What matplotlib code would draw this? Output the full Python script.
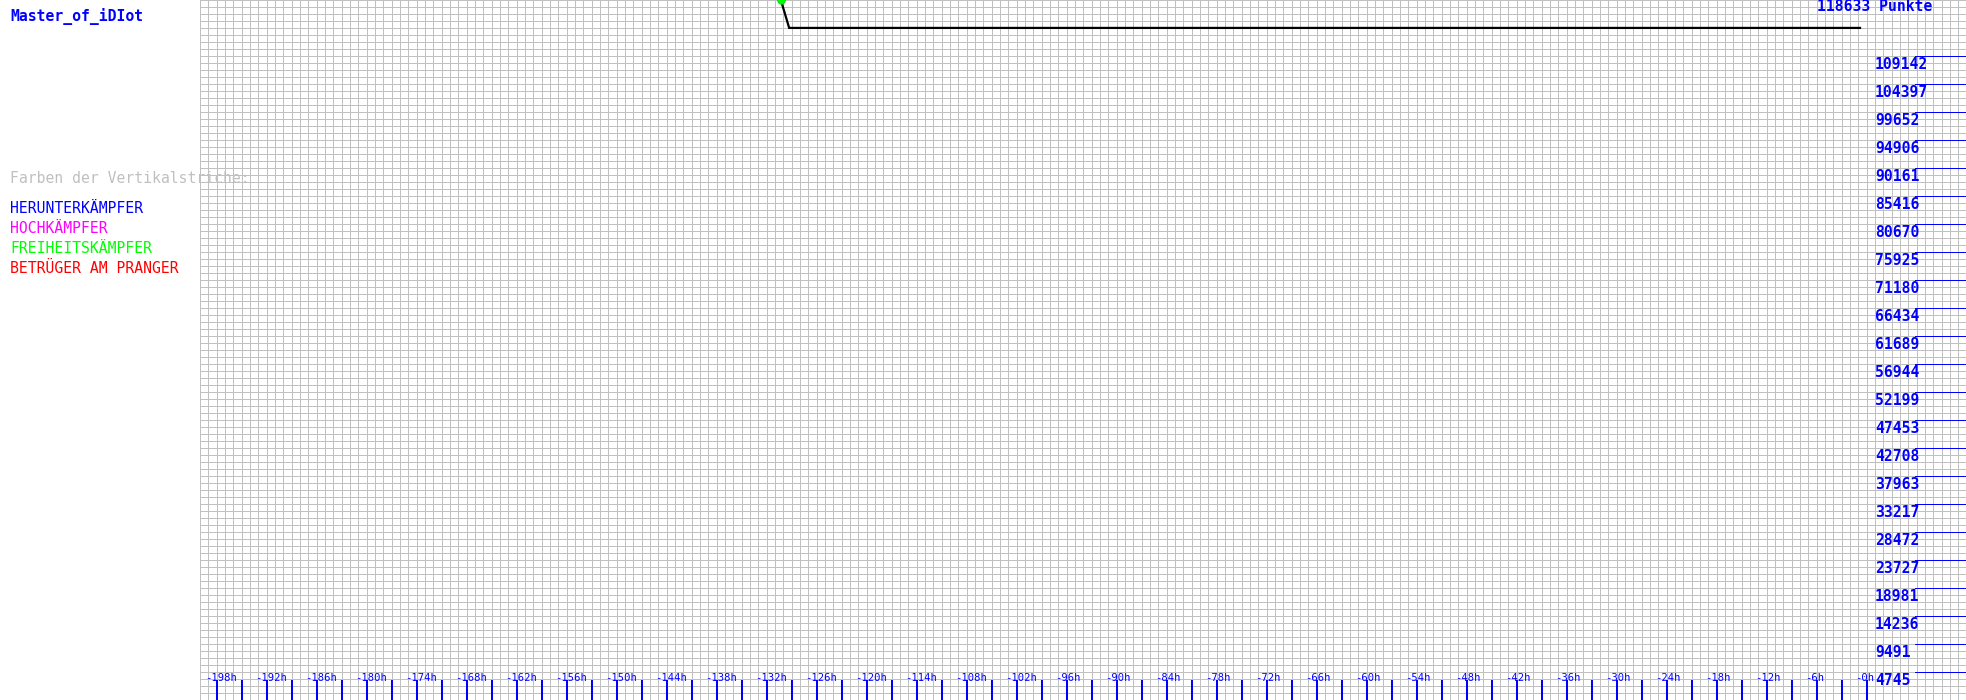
import matplotlib
matplotlib.use("Agg")
import matplotlib.pyplot as plt
from matplotlib.transforms import offset_copy

# ---- data ----
hours = [-130.3, -129.3, -0.8]
points = [118633, 113900, 113900]
max_points = 118633
title_text = "118633 Punkte"
player = "Master_of_iDIot"
y_tick_values = [4745, 9491, 14236, 18981, 23727, 28472, 33217, 37963, 42708, 47453,
                 52199, 56944, 61689, 66434, 71180, 75925, 80670, 85416, 90161, 94906,
                 99652, 104397, 109142]
x_tick_hours = list(range(-198, 1, 3))
x_label_hours = list(range(-198, 1, 6))
x_labels = ["-%dh" % (-h) for h in x_label_hours]
legend_title = "Farben der Vertikalstriche:"
legend_items = ["HERUNTERKÄMPFER", "HOCHKÄMPFER", "FREIHEITSKÄMPFER", "BETRÜGER AM PRANGER"]
legend_colors = ["#0000ff", "#ff00ff", "#00ff00", "#ff0000"]

W, H, DPI = 1966, 700, 100
PX_PER_H = 50.0 / 6.0
X0_PX = 1866.67
xmin = (0 - X0_PX) / PX_PER_H
xmax = (W - X0_PX) / PX_PER_H

fig = plt.figure(figsize=(W / DPI, H / DPI), dpi=DPI)
ax = fig.add_axes([0, 0, 1, 1])
ax.set_xlim(xmin, xmax)
ax.set_ylim(0, max_points)
ax.axis("off")

FONT = "DejaVu Sans Mono"
grid_c = "#c0c0c0"
PX = 72.0 / DPI  # one pixel in points

# grid
grid_left = -200
for h in range(grid_left, 13):
    ax.plot([h, h], [0, max_points], color=grid_c, lw=PX, zorder=1,
            solid_capstyle="butt", antialiased=False)
step = max_points / 100.0
for k in range(0, 101):
    ax.plot([grid_left, xmax], [k * step, k * step], color=grid_c, lw=PX, zorder=1,
            solid_capstyle="butt", antialiased=False)

# right y ticks
tick_x0 = (1915 - X0_PX) / PX_PER_H
lab_tr = offset_copy(ax.transData, fig=fig, x=0, y=-13, units="dots")
for v in y_tick_values:
    ax.plot([tick_x0, xmax], [v, v], color="#0000ff", lw=PX, zorder=3,
            solid_capstyle="butt", antialiased=False)
    ax.text((1875 - X0_PX) / PX_PER_H, v, str(v), transform=lab_tr, family=FONT,
            fontsize=10.6, fontweight="bold", color="#0000ff", ha="left", va="baseline", zorder=4)

# bottom x ticks
tick_len = max_points * 20.0 / H
for h in x_tick_hours:
    ax.plot([h, h], [0, tick_len], color="#0000ff", lw=1.5 * PX, zorder=3,
            solid_capstyle="butt", antialiased=False)
xl_tr = offset_copy(ax.transData, fig=fig, x=-11, y=19, units="dots")
for h, lab in zip(x_label_hours, x_labels):
    ax.text(h, 0, lab, transform=xl_tr, family=FONT, fontsize=7.6, color="#0000ff",
            ha="left", va="baseline", zorder=4)

# data line
ax.plot(hours, points, color="black", lw=1.6, zorder=5, solid_joinstyle="miter")
ax.plot([hours[0]], [points[0]], "o", color="#00ff00", ms=5.5, mec="#00cc00", mew=0.5, zorder=6)

# texts in pixel coordinates
def fx(px):
    return px / W

def fy(py):
    return 1 - py / H

ax.text(fx(1932), fy(11), title_text, transform=ax.transAxes, family=FONT, fontsize=10.6,
        fontweight="bold", color="#0000ff", ha="right", va="baseline", zorder=7)
ax.text(fx(10), fy(21), player, transform=ax.transAxes, family=FONT, fontsize=10.6,
        fontweight="bold", color="#0000ff", ha="left", va="baseline", zorder=7)
ax.text(fx(10), fy(183), legend_title, transform=ax.transAxes, family=FONT, fontsize=10.6,
        color="#c0c0c0", ha="left", va="baseline", zorder=7)
for i, (t, c) in enumerate(zip(legend_items, legend_colors)):
    ax.text(fx(10), fy(213 + 20 * i), t, transform=ax.transAxes, family=FONT, fontsize=10.6,
            color=c, ha="left", va="baseline", zorder=7)

fig.savefig("out.png", dpi=DPI, facecolor="white")
